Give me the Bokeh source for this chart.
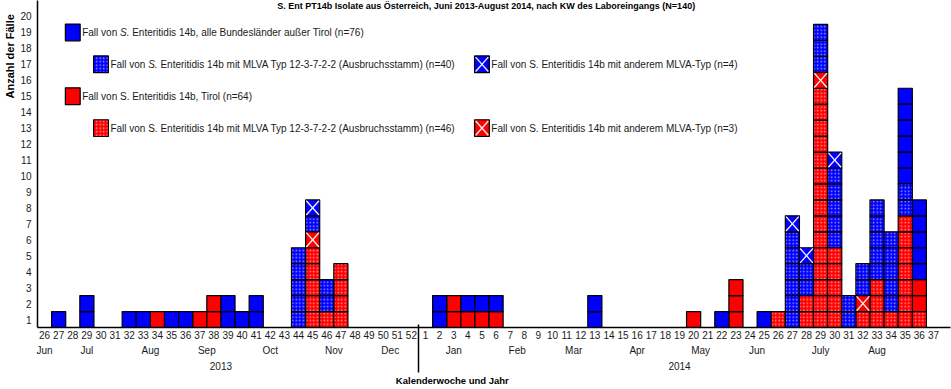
import numpy as np
from bokeh.plotting import figure
from bokeh.models import ColumnDataSource, LinearAxis, FixedTicker, Range1d
from bokeh.core.properties import value
from bokeh.embed import file_html
from bokeh.resources import INLINE

# ---------------- data ----------------
weeks_2013 = list(range(26, 53))   # calendar weeks 26-52 / 2013
weeks_2014 = list(range(1, 38))    # calendar weeks 1-37 / 2014

# cases per week (2013: KW 26..52)
red_dotted_2013  = [0,0,0,0,0,0,0,0,0,0, 0,0,0,0,0,0,0,0,0,5, 1,4,0,0,0,0,0]
red_x_2013       = [0,0,0,0,0,0,0,0,0,0, 0,0,0,0,0,0,0,0,0,1, 0,0,0,0,0,0,0]
red_solid_2013   = [0,0,0,0,0,0,0,0,1,0, 0,1,2,0,0,0,0,0,0,0, 0,0,0,0,0,0,0]
blue_dotted_2013 = [0,0,0,0,0,0,0,0,0,0, 0,0,0,0,0,0,0,0,5,1, 2,0,0,0,0,0,0]
blue_x_2013      = [0,0,0,0,0,0,0,0,0,0, 0,0,0,0,0,0,0,0,0,1, 0,0,0,0,0,0,0]
blue_solid_2013  = [0,1,0,2,0,0,1,1,0,1, 1,0,0,2,1,2,0,0,0,0, 0,0,0,0,0,0,0]

# cases per week (2014: KW 1..37)
red_dotted_2014  = [0,0,0,0,0,0,0,0,0,0, 0,0,0,0,0,0,0,0,0,0, 0,0,0,0,0,1,0,2,15,5, 0,1,3,1,7,1,0]
red_x_2014       = [0,0,0,0,0,0,0,0,0,0, 0,0,0,0,0,0,0,0,0,0, 0,0,0,0,0,0,0,0,1,0, 0,1,0,0,0,0,0]
red_solid_2014   = [0,0,2,1,1,1,0,0,0,0, 0,0,0,0,0,0,0,0,0,1, 0,0,3,0,0,0,0,0,0,0, 0,0,0,0,0,2,0]
blue_dotted_2014 = [0,0,0,0,0,0,0,0,0,0, 0,0,0,0,0,0,0,0,0,0, 0,0,0,0,0,0,6,2,3,5, 2,2,5,5,2,0,0]
blue_x_2014      = [0,0,0,0,0,0,0,0,0,0, 0,0,0,0,0,0,0,0,0,0, 0,0,0,0,0,0,1,1,0,1, 0,0,0,0,0,0,0]
blue_solid_2014  = [0,2,0,1,1,1,0,0,0,0, 0,0,2,0,0,0,0,0,0,0, 0,1,0,0,1,0,0,0,0,0, 0,0,0,0,6,5,0]

title_text = ("S. Ent PT14b Isolate aus Österreich, Juni 2013-August 2014, "
              "nach KW des Laboreingangs (N=140)")
y_title = "Anzahl der Fälle"
x_title = "Kalenderwoche und Jahr"
month_names_2013 = ["Jun", "Jul", "Aug", "Sep", "Oct", "Nov", "Dec"]
month_weeks_2013 = [26, 29, 33.5, 37.5, 42, 46.5, 50.5]
month_names_2014 = ["Jan", "Feb", "Mar", "Apr", "May", "Jun", "July", "Aug"]
month_weeks_2014 = [3, 7.5, 11.5, 16, 20.5, 24.5, 29, 33]
year_names = ["2013", "2014"]
year_weeks = [38.5, 19]
y_tick_labels = [str(k) for k in range(1, 21)]

legend_1 = ["Fall von ", "S.", "Enteritidis 14b, alle Bundesländer außer Tirol (n=76)"]
legend_2 = ["Fall von ", "S.", "Enteritidis 14b mit MLVA Typ 12-3-7-2-2 (Ausbruchsstamm) (n=40)"]
legend_3 = "Fall von S. Enteritidis 14b mit anderem MLVA-Typ (n=4)"
legend_4 = "Fall von S. Enteritidis 14b, Tirol  (n=64)"
legend_5 = "Fall von S. Enteritidis 14b mit MLVA Typ 12-3-7-2-2 (Ausbruchsstamm) (n=46)"
legend_6 = "Fall von S. Enteritidis 14b mit anderem MLVA-Typ (n=3)"

# ---------------- helpers ----------------
n13 = len(weeks_2013)


def pos(year, week):
    return week - weeks_2013[0] if year == 2013 else n13 + week - weeks_2014[0]


week_labels = [str(w) for w in weeks_2013 + weeks_2014]
N = len(week_labels)

BLUE = "#0000FF"
RED = "#FF0000"
FONT = "Liberation Sans"
TXT = "#1a1a1a"

# stacking order bottom -> top
series = [
    (red_dotted_2013 + red_dotted_2014, RED, "dot"),
    (red_x_2013 + red_x_2014, RED, "x"),
    (red_solid_2013 + red_solid_2014, RED, "solid"),
    (blue_dotted_2013 + blue_dotted_2014, BLUE, "dot"),
    (blue_x_2013 + blue_x_2014, BLUE, "x"),
    (blue_solid_2013 + blue_solid_2014, BLUE, "solid"),
]

cells = {"solid": dict(x=[], y=[], c=[]), "dot": dict(x=[], y=[], c=[]), "x": dict(x=[], y=[], c=[])}
base = np.zeros(N)
for counts, col, kind in series:
    for i, cnt in enumerate(counts):
        for k in range(cnt):
            cells[kind]["x"].append(i)
            cells[kind]["y"].append(base[i] + k + 0.5)
            cells[kind]["c"].append(col)
    base += np.array(counts)

# ---------------- figure ----------------
W, H = 951, 389
BL, BR, BB = 37, 1, 62
CELL_X = 14.11
CELL_Y = 15.95
frame_w = W - BL - BR
frame_h = H - BB
p = figure(width=W, height=H, output_backend="svg", toolbar_location=None,
           x_range=Range1d(-0.5, -0.5 + frame_w / CELL_X),
           y_range=Range1d(0, frame_h / CELL_Y),
           min_border_left=BL, min_border_right=BR, min_border_top=0, min_border_bottom=BB)
p.outline_line_color = None
p.xgrid.visible = False
p.ygrid.visible = False
p.background_fill_color = "white"
p.border_fill_color = "white"

dot_style = dict(hatch_pattern="dot", hatch_color="white", hatch_scale=3.5,
                 hatch_weight=0.5, hatch_alpha=0.6)
common = dict(width=1, height=1, line_color="black", line_width=1.2)
p.rect(x="x", y="y", fill_color="c", source=ColumnDataSource(cells["solid"]), **common)
p.rect(x="x", y="y", fill_color="c", source=ColumnDataSource(cells["dot"]), **dot_style, **common)
p.rect(x="x", y="y", fill_color="c", source=ColumnDataSource(cells["x"]), **common)
xs = np.array(cells["x"]["x"], dtype=float)
ys = np.array(cells["x"]["y"], dtype=float)
d = 0.45
p.segment(x0=np.concatenate([xs - d, xs - d]), y0=np.concatenate([ys - d, ys + d]),
          x1=np.concatenate([xs + d, xs + d]), y1=np.concatenate([ys + d, ys - d]),
          line_color="#f4f4f4", line_width=1.3)

# ---------------- legend (drawn on the cell grid) ----------------
leg_cells = [  # (x, y, colour, kind)
    (2, 18.5, BLUE, "solid"), (4, 16.5, BLUE, "dot"), (31, 16.5, BLUE, "x"),
    (2, 14.5, RED, "solid"), (4, 12.5, RED, "dot"), (31, 12.5, RED, "x"),
]
for lx, ly, col, kind in leg_cells:
    kw = dict(x=[lx], y=[ly], width=1.05, height=1.05, fill_color=col,
              line_color="black", line_width=1.2)
    if kind == "dot":
        kw.update(dot_style)
    p.rect(**kw)
    if kind == "x":
        p.segment(x0=[lx - d, lx - d], y0=[ly - d, ly + d], x1=[lx + d, lx + d], y1=[ly + d, ly - d],
                  line_color="#f4f4f4", line_width=1.3)

FS = 10
txt = dict(text_font=value(FONT), text_font_size=f"{FS}px", text_color=TXT,
           text_baseline="middle", text_align="left")
w_fallvon = 3.779 * FS
w_s = (0.667 + 0.278 + 0.278) * FS
for (lx, ly), parts in [((2.525, 18.5), legend_1), ((4.525, 16.5), legend_2)]:
    p.text(x=[lx], y=[ly], text=[parts[0]], x_offset=2, **txt)
    p.text(x=[lx], y=[ly], text=[parts[1]], x_offset=2 + w_fallvon, text_font_style="italic", **txt)
    p.text(x=[lx], y=[ly], text=[parts[2]], x_offset=2 + w_fallvon + w_s, **txt)
for (lx, ly), t in [((31.525, 16.5), legend_3), ((2.525, 14.5), legend_4),
                    ((4.525, 12.5), legend_5), ((31.525, 12.5), legend_6)]:
    p.text(x=[lx], y=[ly], text=[t], x_offset=2, **txt)

# title (top of the frame)
p.text(x=[pos(2014, 5.3)], y=[frame_h / CELL_Y], text=[title_text], text_font=value(FONT),
       text_font_size="9px", text_font_style="bold", text_color="black",
       text_baseline="top", text_align="center")

# ---------------- axes ----------------
def plain(ax, size="10px", bold=False):
    ax.major_tick_line_color = None
    ax.minor_tick_line_color = None
    ax.major_tick_out = 0
    ax.major_tick_in = 0
    ax.minor_tick_out = 0
    ax.minor_tick_in = 0
    ax.major_label_text_font = FONT
    ax.major_label_text_font_size = size
    ax.major_label_text_color = TXT if not bold else "black"
    if bold:
        ax.major_label_text_font_style = "bold"

# y axis (labels centred in the cells)
yax = p.yaxis[0]
yax.ticker = FixedTicker(ticks=[k + 0.5 for k in range(20)], minor_ticks=[])
yax.major_label_overrides = {k + 0.5: lab for k, lab in enumerate(y_tick_labels)}
plain(yax)
yax.major_label_standoff = 6
yax.axis_line_color = "black"
yax.axis_line_width = 1.5

ytit = LinearAxis(ticker=FixedTicker(ticks=[17.0], minor_ticks=[]),
                  major_label_overrides={17.0: y_title})
plain(ytit, "11px", bold=True)
ytit.axis_line_color = None
ytit.major_label_orientation = "vertical"
ytit.major_label_standoff = 1
p.add_layout(ytit, "left")

# x axis: calendar weeks
xax = p.xaxis[0]
xax.ticker = FixedTicker(ticks=list(range(N)), minor_ticks=[])
xax.major_label_overrides = {i: lab for i, lab in enumerate(week_labels)}
plain(xax)
xax.major_label_standoff = 3
xax.axis_line_color = "black"
xax.axis_line_width = 1.5

# months
m_pos = [pos(2013, w) for w in month_weeks_2013] + [pos(2014, w) for w in month_weeks_2014]
m_lab = month_names_2013 + month_names_2014
max_ = LinearAxis(ticker=FixedTicker(ticks=[float(v) for v in m_pos], minor_ticks=[]),
                  major_label_overrides={float(v): l for v, l in zip(m_pos, m_lab)})
plain(max_)
max_.axis_line_color = None
max_.major_label_standoff = 3
p.add_layout(max_, "below")

# years
y_pos = [pos(2013, year_weeks[0]), pos(2014, year_weeks[1])]
yrax = LinearAxis(ticker=FixedTicker(ticks=[float(v) for v in y_pos], minor_ticks=[]),
                  major_label_overrides={float(v): l for v, l in zip(y_pos, year_names)})
plain(yrax)
yrax.axis_line_color = None
yrax.major_label_standoff = 3
p.add_layout(yrax, "below")

# year separator (tick drawn upwards to the week axis)
sep_x = (pos(2013, weeks_2013[-1]) + pos(2014, weeks_2014[0])) / 2
sep = LinearAxis(ticker=FixedTicker(ticks=[float(sep_x)], minor_ticks=[]),
                 major_label_overrides={float(sep_x): ""})
sep.axis_line_color = None
sep.minor_tick_line_color = None
sep.major_tick_out = 0
sep.major_tick_in = 48
sep.major_tick_line_color = "black"
sep.major_tick_line_width = 1.5
sep.major_label_text_font_size = "0px"
sep.major_label_standoff = 0
p.add_layout(sep, "below")

# x title
xt_pos = pos(2014, 2.9)
xtit = LinearAxis(ticker=FixedTicker(ticks=[float(xt_pos)], minor_ticks=[]),
                  major_label_overrides={float(xt_pos): x_title})
plain(xtit, "9.5px", bold=True)
xtit.axis_line_color = None
xtit.major_label_standoff = 2
p.add_layout(xtit, "below")

open("out.html", "w").write(file_html(p, INLINE))
